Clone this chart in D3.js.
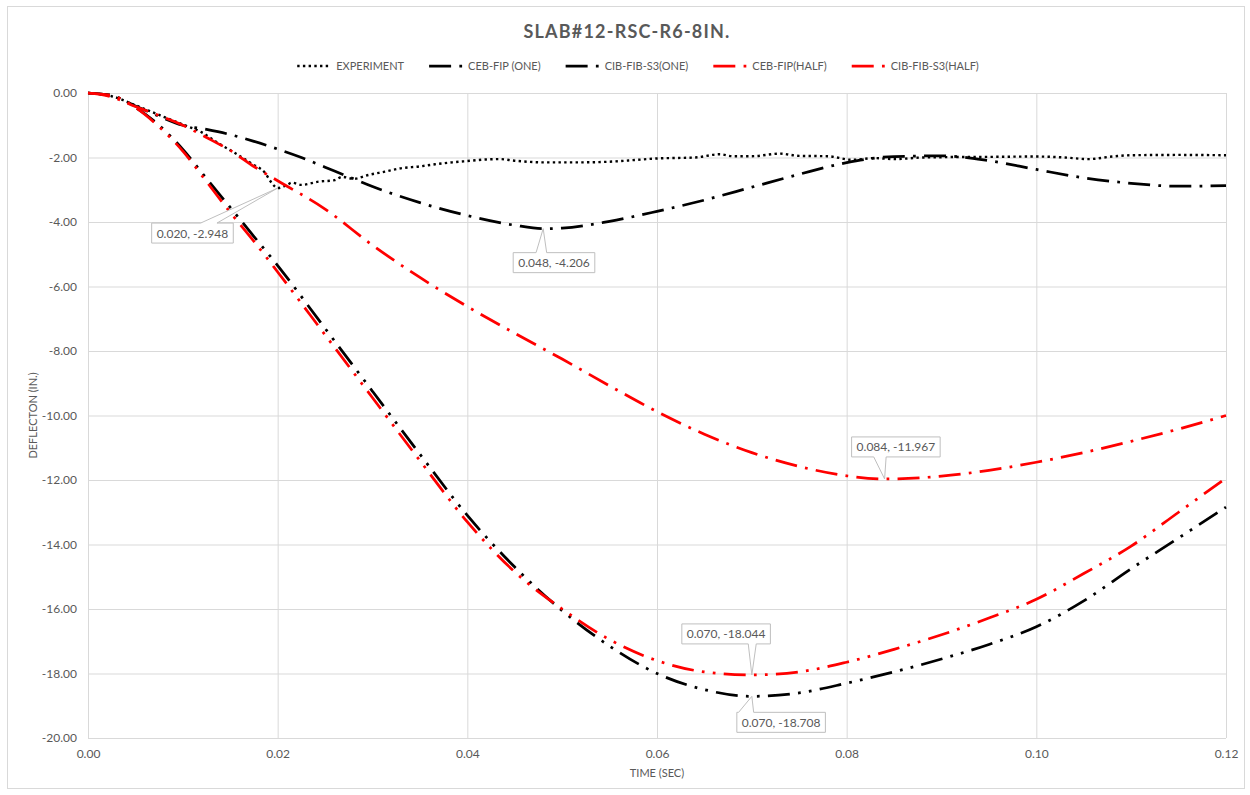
<!DOCTYPE html>
<html>
<head>
<meta charset="utf-8">
<script src="https://cdn.jsdelivr.net/npm/d3@7"></script>
<style>
  body { margin: 0; background: #fff; }
  svg { display: block; }
  text { font-family: Lato, "Open Sans", sans-serif; fill: #595959; }
</style>
</head>
<body>
<svg id="chart" width="1250" height="795"></svg>
<script>
// ---- data -------------------------------------------------------------
const chartTitle = "SLAB#12-RSC-R6-8IN.";
const xTitle = "TIME (SEC)";
const yTitle = "DEFLECTON (IN.)";

const xTicks = [0, 0.02, 0.04, 0.06, 0.08, 0.10, 0.12];
const yTicks = [0, -2, -4, -6, -8, -10, -12, -14, -16, -18, -20];

const seriesNames = ["EXPERIMENT", "CEB-FIP (ONE)", "CIB-FIB-S3(ONE)", "CEB-FIP(HALF)", "CIB-FIB-S3(HALF)"];

// measured slab deflection
const expTime = [0, 0.0025, 0.005, 0.0075, 0.010, 0.012, 0.0137, 0.0155, 0.0172, 0.0187, 0.0194, 0.020,
  0.021, 0.0215, 0.0225, 0.0243, 0.026, 0.0268, 0.028, 0.0296, 0.0313, 0.0331, 0.0349, 0.0366, 0.0384,
  0.040, 0.042, 0.0434, 0.045, 0.048, 0.052, 0.055, 0.058, 0.060, 0.064, 0.0666, 0.068, 0.070, 0.073,
  0.075, 0.078, 0.0805, 0.083, 0.085, 0.088, 0.090, 0.095, 0.100, 0.103, 0.1055, 0.108, 0.110, 0.115, 0.120];
const expDefl = [0, -0.10, -0.38, -0.68, -0.98, -1.22, -1.55, -1.86, -2.18, -2.49, -2.80, -2.948,
  -2.85, -2.78, -2.85, -2.75, -2.70, -2.60, -2.66, -2.54, -2.44, -2.33, -2.28, -2.21, -2.15,
  -2.11, -2.06, -2.05, -2.10, -2.15, -2.15, -2.13, -2.07, -2.03, -2.00, -1.90, -1.96, -1.96, -1.88,
  -1.95, -1.96, -2.07, -2.02, -2.05, -2.00, -1.99, -1.98, -1.97, -2.00, -2.05, -1.97, -1.93, -1.92, -1.93];

// CEB-FIP, one-way model
const cebOneTime = [0, 0.0025, 0.005, 0.0075, 0.010, 0.0125, 0.015, 0.0175, 0.020, 0.0225, 0.025, 0.0275,
  0.030, 0.035, 0.040, 0.045, 0.048, 0.050, 0.055, 0.060, 0.065, 0.070, 0.075, 0.080, 0.085, 0.090,
  0.095, 0.100, 0.105, 0.110, 0.115, 0.120];
const cebOneDefl = [0, -0.08, -0.40, -0.72, -1.00, -1.13, -1.29, -1.50, -1.74, -2.00, -2.30, -2.60,
  -2.90, -3.40, -3.80, -4.10, -4.206, -4.19, -3.98, -3.67, -3.32, -2.92, -2.52, -2.16, -1.97, -1.95,
  -2.10, -2.37, -2.63, -2.80, -2.89, -2.87];

// CIB-FIB-S3, one-way model
const cibOneTime = [0, 0.0025, 0.005, 0.0075, 0.010, 0.0125, 0.015, 0.0175, 0.020, 0.025, 0.030, 0.035,
  0.040, 0.045, 0.050, 0.055, 0.060, 0.065, 0.070, 0.075, 0.080, 0.085, 0.090, 0.095, 0.100, 0.105,
  0.110, 0.115, 0.120];
const cibOneDefl = [0, -0.08, -0.45, -1.00, -1.75, -2.65, -3.55, -4.45, -5.35, -7.30, -9.25, -11.20,
  -13.10, -14.70, -16.05, -17.15, -18.00, -18.50, -18.708, -18.60, -18.30, -17.95, -17.55, -17.10, -16.55, -15.75,
  -14.75, -13.80, -12.84];

// CEB-FIP, half model
const cebHalfTime = [0, 0.0025, 0.005, 0.0075, 0.010, 0.0125, 0.015, 0.0175, 0.020, 0.025, 0.030, 0.035,
  0.040, 0.045, 0.050, 0.055, 0.060, 0.065, 0.070, 0.075, 0.080, 0.084, 0.090, 0.095, 0.100, 0.105,
  0.110, 0.115, 0.120];
const cebHalfDefl = [0, -0.12, -0.42, -0.70, -1.00, -1.38, -1.78, -2.28, -2.72, -3.60, -4.72, -5.72,
  -6.62, -7.45, -8.25, -9.08, -9.88, -10.58, -11.15, -11.58, -11.87, -11.967, -11.88, -11.70, -11.45, -11.15,
  -10.80, -10.42, -10.00];

// CIB-FIB-S3, half model
const cibHalfTime = [0, 0.0025, 0.005, 0.0075, 0.010, 0.0125, 0.015, 0.0175, 0.020, 0.025, 0.030, 0.035,
  0.040, 0.045, 0.050, 0.055, 0.060, 0.065, 0.070, 0.075, 0.080, 0.085, 0.090, 0.095, 0.100, 0.105,
  0.110, 0.115, 0.120];
const cibHalfDefl = [0, -0.08, -0.45, -1.05, -1.80, -2.75, -3.70, -4.60, -5.55, -7.50, -9.45, -11.40,
  -13.30, -14.85, -16.00, -16.95, -17.60, -17.95, -18.044, -17.95, -17.65, -17.25, -16.80, -16.28, -15.70, -14.90,
  -14.05, -13.00, -11.94];

// labelled points: [series index, time]
const calloutPoints = [[0, 0.020], [1, 0.048], [4, 0.070], [2, 0.070], [3, 0.084]];

// ---- layout -------------------------------------------------------------
const svg = d3.select("#chart");
const plot = { left: 88, right: 1226, top: 93, bottom: 738 };

const x = d3.scaleLinear().domain([0, 0.12]).range([plot.left, plot.right]);
const y = d3.scaleLinear().domain([-20, 0]).range([plot.bottom, plot.top]);

const gridColor = "#d9d9d9";
const lw = 2.75;
const styles = [
  { color: "#000000", width: 2.4, dash: "2.4 3.3" },
  { color: "#000000", width: lw, dash: [8, 3, 1, 3].map(d => d * lw).join(" ") },
  { color: "#000000", width: lw, dash: [8, 3, 1, 3, 1, 3].map(d => d * lw).join(" ") },
  { color: "#ff0000", width: lw, dash: [8, 3, 1, 3].map(d => d * lw).join(" ") },
  { color: "#ff0000", width: lw, dash: [8, 3, 1, 3, 1, 3].map(d => d * lw).join(" ") }
];

const series = [
  [expTime, expDefl], [cebOneTime, cebOneDefl], [cibOneTime, cibOneDefl],
  [cebHalfTime, cebHalfDefl], [cibHalfTime, cibHalfDefl]
].map(([t, v], i) => ({ name: seriesNames[i], points: t.map((tt, k) => ({ t: tt, v: v[k] })), style: styles[i] }));

// chart frame
svg.append("rect").attr("x", 7.5).attr("y", 6.5).attr("width", 1237).attr("height", 782)
  .attr("fill", "#fff").attr("stroke", gridColor).attr("stroke-width", 1);

// title
svg.append("text").attr("x", 627).attr("y", 38).attr("text-anchor", "middle")
  .style("font-size", "18px").style("font-weight", "bold").style("letter-spacing", "1.2px")
  .text(chartTitle);

// gridlines
const gx = svg.append("g").attr("transform", `translate(0,${plot.bottom})`)
  .call(d3.axisBottom(x).tickValues(xTicks).tickSize(-(plot.bottom - plot.top)).tickFormat(""));
const gy = svg.append("g").attr("transform", `translate(${plot.left},0)`)
  .call(d3.axisLeft(y).tickValues(yTicks).tickSize(-(plot.right - plot.left)).tickFormat(""));
[gx, gy].forEach(g => {
  g.select(".domain").remove();
  g.selectAll("line").attr("stroke", gridColor).attr("stroke-width", 1);
});

// tick labels
const ax = svg.append("g").attr("transform", `translate(0,${plot.bottom})`)
  .call(d3.axisBottom(x).tickValues(xTicks).tickSize(0).tickPadding(11).tickFormat(d => d.toFixed(2)));
const ay = svg.append("g").attr("transform", `translate(${plot.left},0)`)
  .call(d3.axisLeft(y).tickValues(yTicks).tickSize(0).tickPadding(11).tickFormat(d => d.toFixed(2)));
[ax, ay].forEach(g => {
  g.select(".domain").remove();
  g.selectAll("text").attr("font-family", null).style("font-size", "12px").attr("fill", "#595959");
});

// axis titles
svg.append("text").attr("x", (plot.left + plot.right) / 2).attr("y", 777).attr("text-anchor", "middle")
  .style("font-size", "11px").text(xTitle);
svg.append("text").attr("transform", `translate(37,${(plot.top + plot.bottom) / 2}) rotate(-90)`)
  .attr("text-anchor", "middle").style("font-size", "11px").text(yTitle);

// series lines
const line = d3.line().x(d => x(d.t)).y(d => y(d.v)).curve(d3.curveMonotoneX);
svg.append("g").selectAll("path").data(series).join("path")
  .attr("d", d => line(d.points))
  .attr("fill", "none")
  .attr("stroke", d => d.style.color)
  .attr("stroke-width", d => d.style.width)
  .attr("stroke-dasharray", d => d.style.dash);

// legend
const legend = svg.append("g");
const sampleLen = 34, sampleGap = 5, itemGap = 25, legendY = 66;
let cursor = 0;
series.forEach(s => {
  const g = legend.append("g").attr("transform", `translate(${cursor},0)`);
  g.append("line").attr("x1", 0).attr("x2", sampleLen).attr("y1", legendY).attr("y2", legendY)
    .attr("stroke", s.style.color).attr("stroke-width", s.style.width).attr("stroke-dasharray", s.style.dash);
  const t = g.append("text").attr("x", sampleLen + sampleGap).attr("y", legendY + 4)
    .style("font-size", "11px").text(s.name);
  cursor += sampleLen + sampleGap + t.node().getComputedTextLength() + itemGap;
});
const legendWidth = cursor - itemGap;
legend.attr("transform", `translate(${638 - legendWidth / 2},0)`);

// data callouts: box offset from the tip and the side the pointer leaves from
const calloutLayout = [
  { dx: -126, dy: 35, side: "top", a: 0.60, b: 0.80 },
  { dx: -30, dy: 24, side: "top", a: 0.28, b: 0.41 },
  { dx: -70, dy: -51, side: "bottom", a: 0.75, b: 0.84 },
  { dx: -15, dy: 16, side: "top", a: 0.02, b: 0.19 },
  { dx: -33, dy: -42, side: "bottom", a: 0.25, b: 0.39 }
];
const callouts = svg.append("g");
calloutPoints.forEach(([si, t], i) => {
  const p = series[si].points.find(d => Math.abs(d.t - t) < 1e-9);
  const tipX = x(p.t), tipY = y(p.v);
  const L = calloutLayout[i];
  const label = `${p.t.toFixed(3)}, ${p.v.toFixed(3)}`;
  const g = callouts.append("g");
  const path = g.append("path");
  const txt = g.append("text").style("font-size", "12px").text(label);
  const tw = txt.node().getComputedTextLength();
  const bw = tw + 10, bh = 20;
  const bx = tipX + L.dx, by = tipY + L.dy;
  txt.attr("x", bx + bw / 2).attr("y", by + 14.5).attr("text-anchor", "middle");
  const ax1 = bx + bw * L.a, ax2 = bx + bw * L.b;
  let d;
  if (L.side === "top") {
    d = `M${bx},${by} L${ax1},${by} L${tipX},${tipY} L${ax2},${by} L${bx + bw},${by} L${bx + bw},${by + bh} L${bx},${by + bh} Z`;
  } else {
    d = `M${bx},${by} L${bx + bw},${by} L${bx + bw},${by + bh} L${ax2},${by + bh} L${tipX},${tipY} L${ax1},${by + bh} L${bx},${by + bh} Z`;
  }
  path.attr("d", d).attr("fill", "#fff").attr("stroke", "#bfbfbf").attr("stroke-width", 1);
});
</script>
</body>
</html>
